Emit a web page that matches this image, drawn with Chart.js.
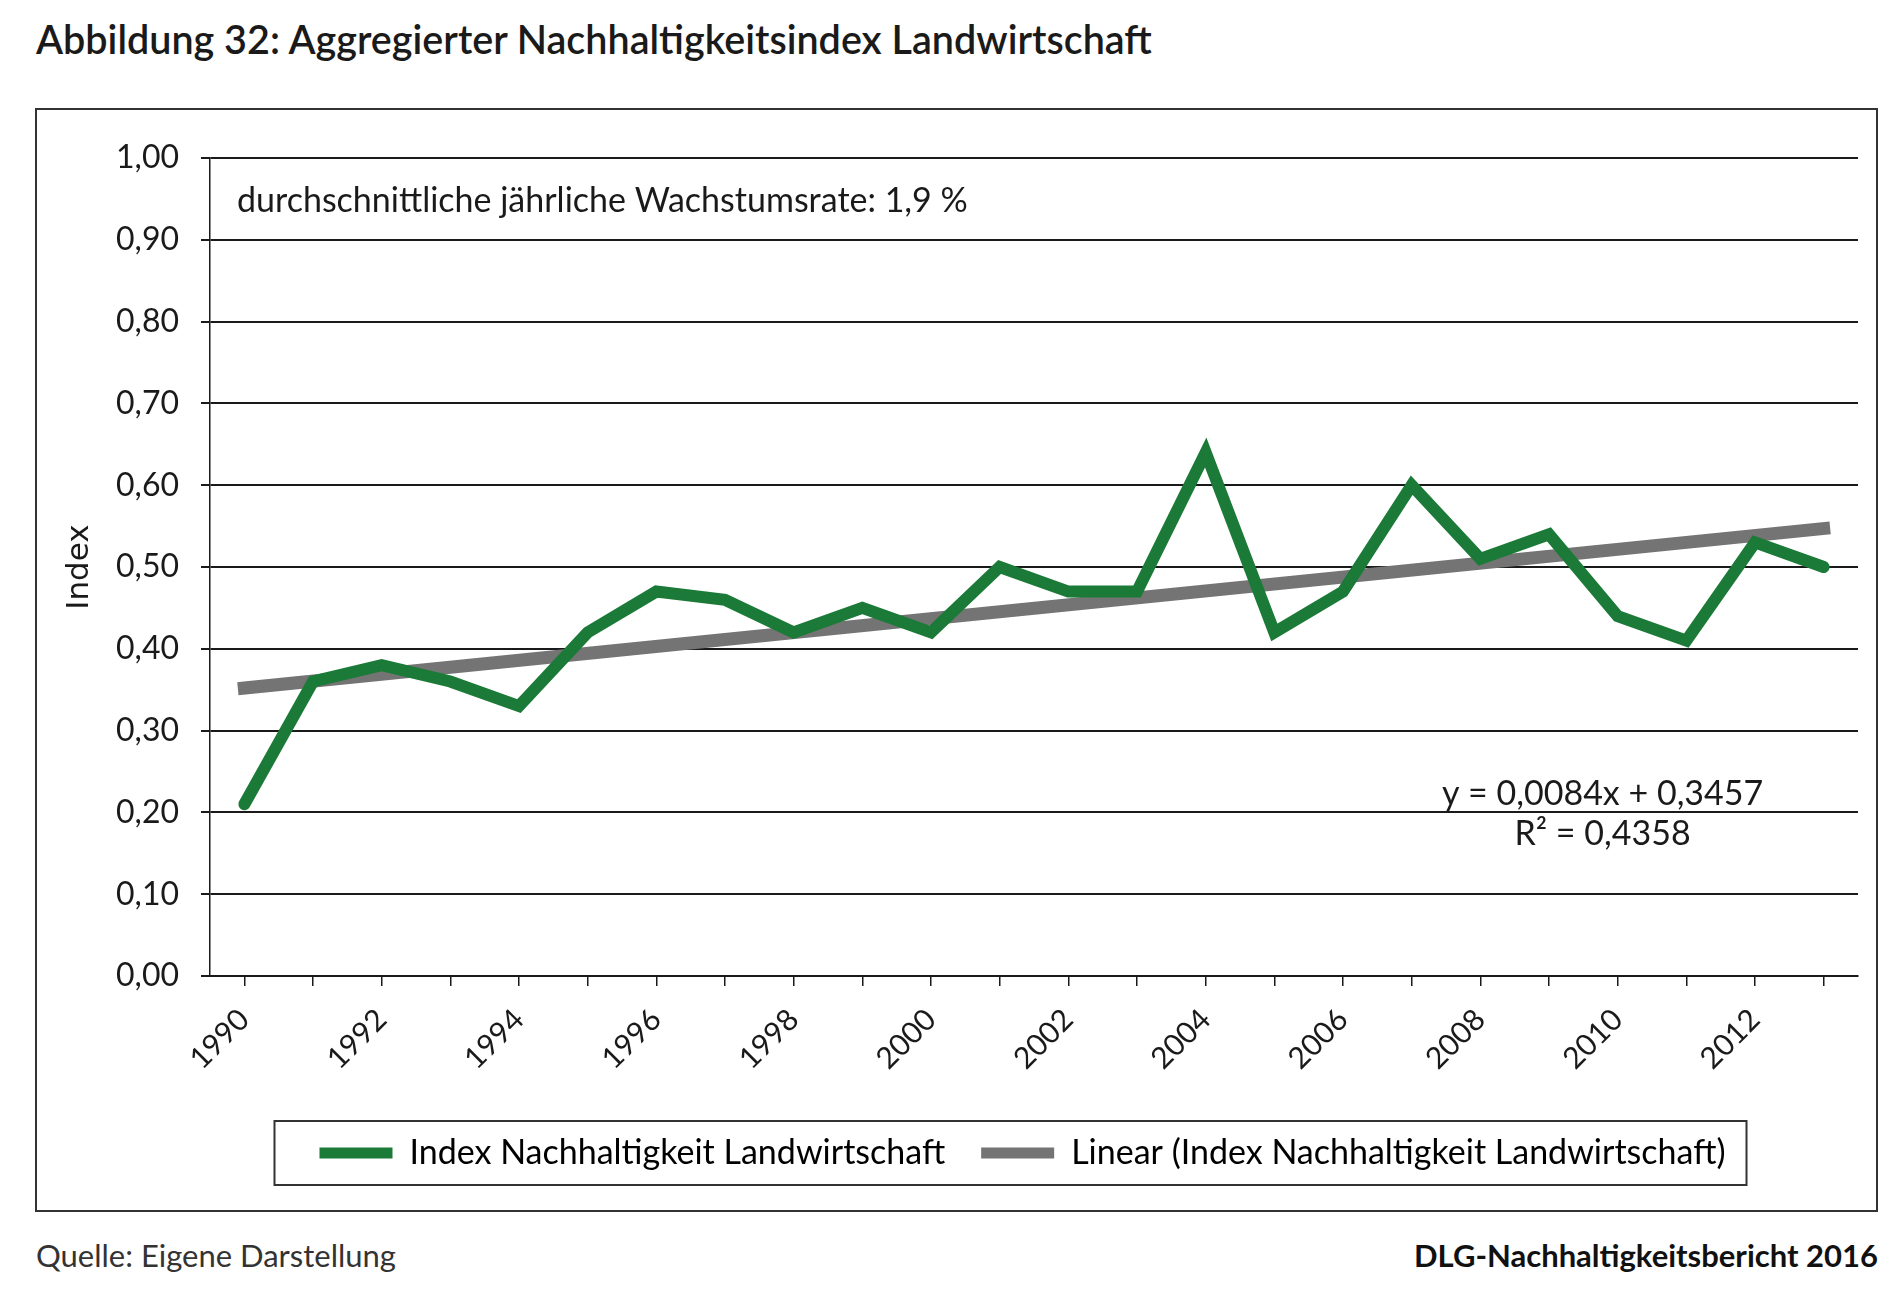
<!DOCTYPE html>
<html lang="de">
<head>
<meta charset="UTF-8">
<title>Aggregierter Nachhaltigkeitsindex Landwirtschaft</title>
<script src="https://cdn.jsdelivr.net/npm/chart.js@4.4.0/dist/chart.umd.min.js"></script>
<style>
body{margin:0;width:1900px;height:1297px;background:#fff;font-family:Lato,sans-serif;color:#1a1a1a;position:relative;overflow:hidden}
h1{position:absolute;left:36px;top:19px;margin:0;font-size:39.5px;line-height:39px;font-weight:600;white-space:nowrap}
#box{position:absolute;left:35px;top:108px;width:1839px;height:1100px;border:2px solid #333}
canvas{display:block}
.src{position:absolute;left:36px;top:1240px;font-size:31px;line-height:31px;color:#333}
.brand{position:absolute;right:22px;top:1240px;font-size:31px;line-height:31px;font-weight:700;color:#111}
</style>
</head>
<body>

<h1>Abbildung 32: Aggregierter Nachhaltigkeitsindex Landwirtschaft</h1>

<div id="box"><canvas id="chart" width="1839" height="1100"></canvas></div>

<div class="src">Quelle: Eigene Darstellung</div>
<div class="brand">DLG-Nachhaltigkeitsbericht 2016</div>

<script>
/* ---------- data ---------- */
const years = [1990,1991,1992,1993,1994,1995,1996,1997,1998,1999,2000,2001,
               2002,2003,2004,2005,2006,2007,2008,2009,2010,2011,2012,2013];
const indexValues = [0.21,0.36,0.38,0.36,0.33,0.42,0.47,0.46,0.42,0.45,0.42,0.50,
                     0.47,0.47,0.64,0.42,0.47,0.60,0.51,0.54,0.44,0.41,0.53,0.50];
// linear trend: only the two ends, the line is drawn straight between them
const trendValues = [0.352,null,null,null,null,null,null,null,null,null,null,null,
                     null,null,null,null,null,null,null,null,null,null,null,0.547];
const yTicks = [0,0.1,0.2,0.3,0.4,0.5,0.6,0.7,0.8,0.9,1.0];

const seriesNames = ['Index Nachhaltigkeit Landwirtschaft',
                     'Linear (Index Nachhaltigkeit Landwirtschaft)'];
const growthNote = 'durchschnittliche jährliche Wachstumsrate: 1,9 %';
const equation = 'y = 0,0084x + 0,3457';
const rSquared = 'R² = 0,4358';

const GREEN = '#1b7a37', GREY = '#747474', INK = '#1a1a1a';
const FONT = 'Lato, sans-serif';
const comma = v => v.toFixed(2).replace('.', ',');

/* ---------- extras: legend frame, legend shift, text notes ---------- */
const extras = {
  id:'extras',
  afterLayout(chart){
    const lg = chart.legend;
    lg.left += 75; lg.right += 75;
  },
  afterDraw(chart){
    const {ctx, chartArea:a, legend:lg} = chart;
    ctx.save();
    // legend frame
    const hb = lg.legendHitBoxes;
    if(hb && hb.length){
      const first = hb[0], last = hb[hb.length-1];
      const cy = first.top + first.height/2;
      ctx.strokeStyle = '#333'; ctx.lineWidth = 2;
      ctx.strokeRect(first.left-45, cy-32, last.left+last.width+21-(first.left-45), 64);
    }
    // notes
    ctx.fillStyle = INK;
    ctx.font = '34px ' + FONT;
    ctx.textBaseline = 'middle';
    ctx.textAlign = 'left';
    ctx.fillText(growthNote, a.left+27, chart.scales.y.getPixelForValue(0.948));
    ctx.textAlign = 'center';
    const cx = a.left + (a.right-a.left)*0.845;
    ctx.fillText(equation, cx, chart.scales.y.getPixelForValue(0.222));
    ctx.fillText(rSquared, cx, chart.scales.y.getPixelForValue(0.173));
    ctx.restore();
  }
};

new Chart(document.getElementById('chart'), {
  type:'line',
  data:{
    labels: years,
    datasets:[
      {label:seriesNames[0], data:indexValues, borderColor:GREEN, backgroundColor:GREEN,
       borderWidth:12, pointRadius:0, tension:0, borderJoinStyle:'miter', borderCapStyle:'round'},
      {label:seriesNames[1], data:trendValues, borderColor:GREY, backgroundColor:GREY,
       borderWidth:13, pointRadius:0, tension:0, spanGaps:true, borderCapStyle:'square'}
    ]
  },
  options:{
    responsive:false, animation:false, devicePixelRatio:1,
    layout:{padding:{top:48, right:18, left:0, bottom:30}},
    plugins:{
      tooltip:{enabled:false},
      legend:{
        position:'bottom',
        labels:{
          boxWidth:73, boxHeight:11, padding:36, color:INK,
          font:{family:FONT, size:34},
          generateLabels: chart => chart.data.datasets.map((ds,i)=>({
            text:ds.label, fillStyle:ds.borderColor, strokeStyle:ds.borderColor,
            lineWidth:0, hidden:false, datasetIndex:i
          }))
        }
      }
    },
    scales:{
      x:{
        offset:true,
        grid:{drawOnChartArea:false, drawTicks:true, tickLength:10, color:INK, lineWidth:1.5},
        border:{display:true, color:INK, width:2},
        ticks:{
          autoSkip:false, minRotation:45, maxRotation:45, padding:16, color:INK,
          font:{family:FONT, size:30},
          callback:(v,i)=> i%2===0 ? String(years[i]) : ''
        },
        afterFit: s => { s.height = 124; }
      },
      y:{
        min:0, max:1,
        afterBuildTicks: s => { s.ticks = yTicks.map(v=>({value:v})); },
        grid:{color:INK, lineWidth:2, tickLength:9},
        border:{display:true, color:INK, width:1.5},
        ticks:{padding:22, color:INK, font:{family:FONT, size:32}, callback:v=>comma(v)},
        title:{display:true, text:'Index', color:INK, padding:{top:24, bottom:0},
               font:{family:'DejaVu Sans, sans-serif', size:31}},
        afterFit: s => { s.width = 173; }
      }
    }
  },
  plugins:[extras]
});
</script>

</body>
</html>
